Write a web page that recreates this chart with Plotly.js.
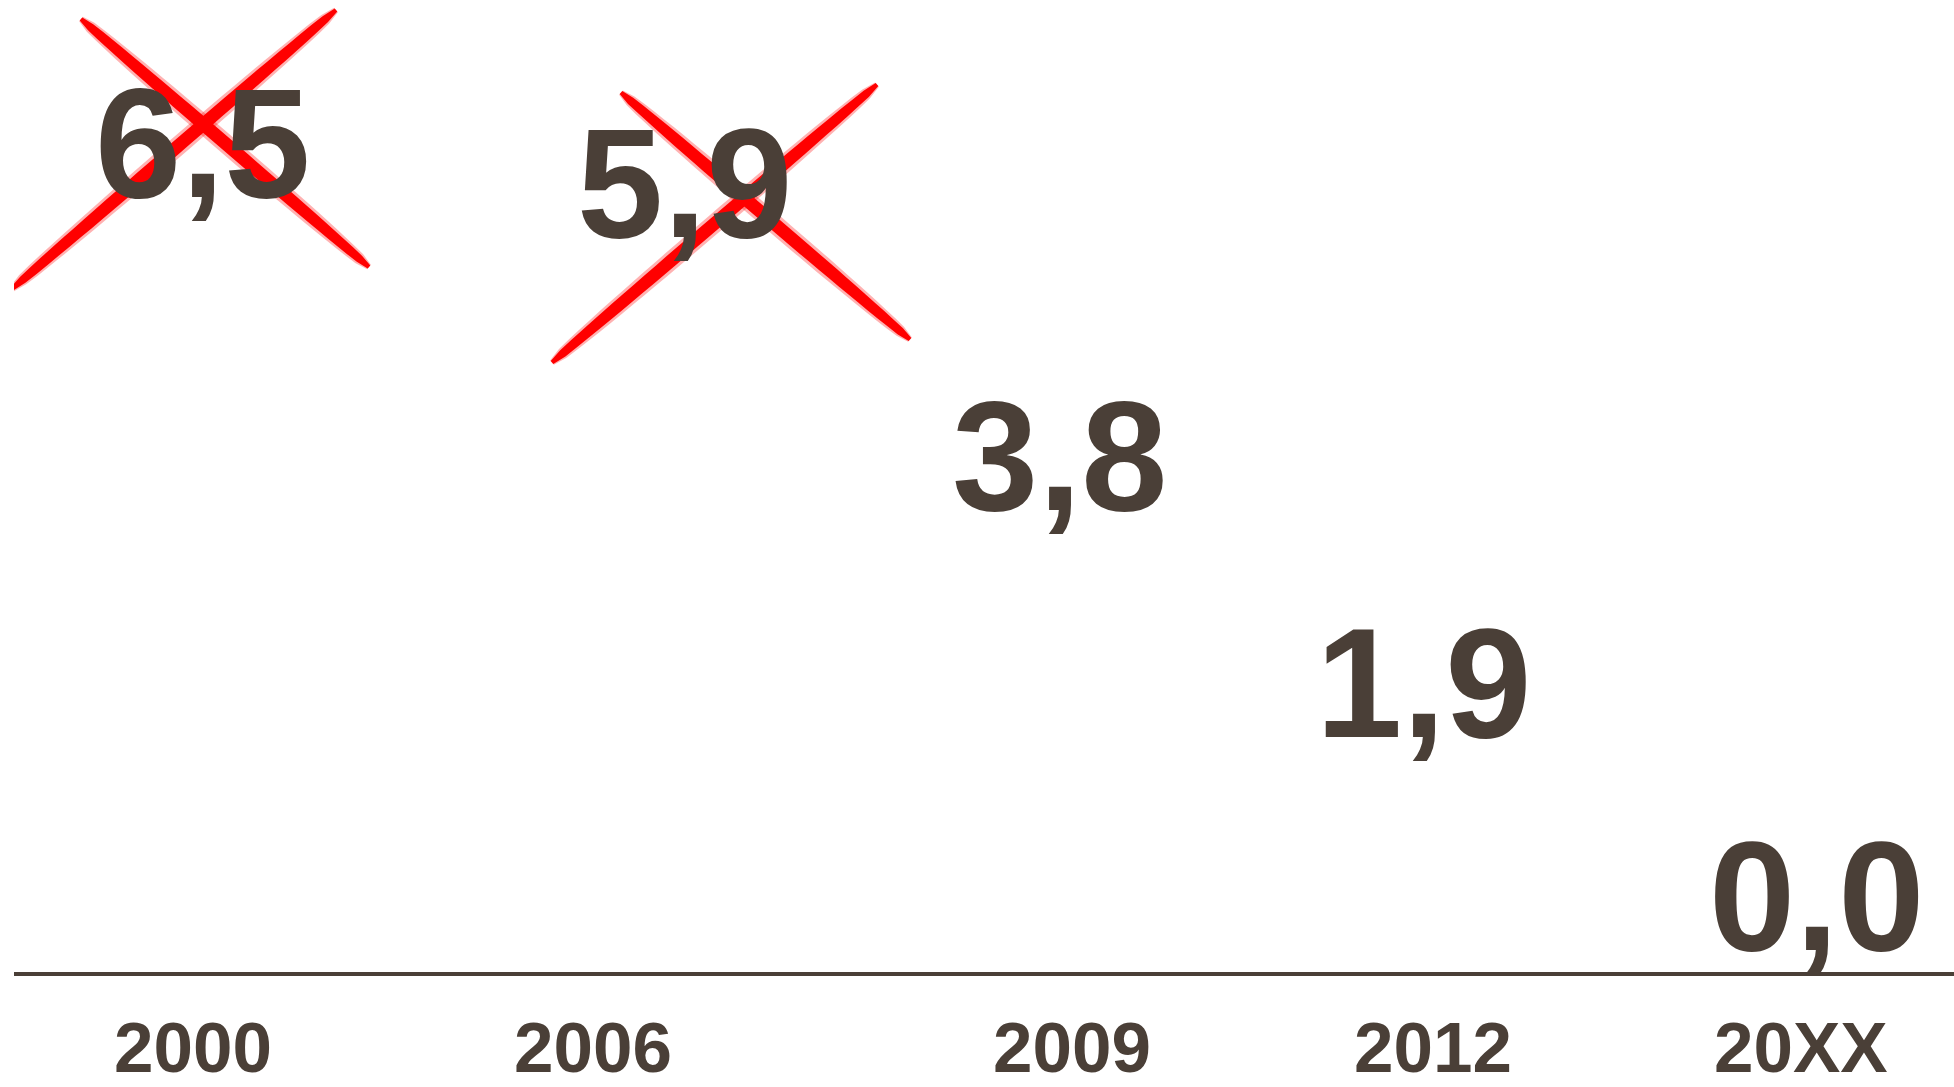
<!DOCTYPE html>
<html>
<head>
<meta charset="utf-8">
<script src="https://cdn.plot.ly/plotly-3.0.1.min.js"></script>
<style>
  html, body { margin: 0; padding: 0; background: #ffffff; }
  #chart { width: 1954px; height: 1087px; }
</style>
</head>
<body>
<div id="chart"></div>
<script>
// ---- data ----
const years = ['2000', '2006', '2009', '2012', '20XX'];
const values = [6.5, 5.9, 3.8, 1.9, 0.0];
const crossedOut = [true, true, false, false, false];

// ---- styling (pixel offsets of hand-placed labels) ----
const valueShiftX = [-6, 88, 75, 51, 56];
const valueShiftY = [0, 29, 0, -7, 0];
const yearShiftX = [-15, -3, 88, 61, 41];
// brush-stroke cross offsets (pixels, relative to the data point, y up)
const crossStrokes = [
  [[-127, 124, 161, -124], [-196, -146, 128, 133]],
  [[25, 120, 314, -127], [-44, -150, 281, 128]]
];

const ink = '#4a3f37';
const fmt = v => v.toFixed(1).replace('.', ',');
// position of each category on the category axis (its index)
const catPos = years.map((_, i) => i);

const annotations = [];
values.forEach((v, i) => {
  annotations.push({
    xref: 'x', yref: 'y', x: catPos[i], y: v,
    text: '<b>' + fmt(v) + '</b>', showarrow: false,
    xanchor: 'center', yanchor: 'middle',
    xshift: valueShiftX[i], yshift: valueShiftY[i],
    font: { family: 'Liberation Sans, Arial, sans-serif', size: 155, color: ink }
  });
});
years.forEach((yr, i) => {
  annotations.push({
    xref: 'x', yref: 'paper', x: catPos[i], y: 0,
    text: '<b>' + yr + '</b>', showarrow: false,
    xanchor: 'center', yanchor: 'middle',
    xshift: yearShiftX[i], yshift: -75,
    font: { family: 'Liberation Sans, Arial, sans-serif', size: 71, color: ink }
  });
});

// tapered brush stroke path in pixel coordinates
function brushPath(x0, y0, x1, y1, wMax) {
  const n = 30;
  const dx = x1 - x0, dy = y1 - y0;
  const len = Math.hypot(dx, dy);
  const nx = -dy / len, ny = dx / len;
  const left = [], right = [];
  for (let k = 0; k <= n; k++) {
    const t = k / n;
    const w = wMax * (0.3 + 0.7 * Math.pow(Math.sin(Math.PI * t), 0.35)) / 2;
    const px = x0 + dx * t, py = y0 + dy * t;
    left.push([px + nx * w, py + ny * w]);
    right.push([px - nx * w, py - ny * w]);
  }
  const pts = left.concat(right.reverse());
  return 'M' + pts.map(p => p[0].toFixed(1) + ',' + p[1].toFixed(1)).join(' L') + ' Z';
}

const shapes = [];
let c = 0;
values.forEach((v, i) => {
  if (!crossedOut[i]) return;
  const strokes = crossStrokes[c++];
  strokes.forEach(s => {
    [[19, 'rgba(255,0,0,0.3)'], [13, '#ff0000']].forEach(([w, col]) => {
      shapes.push({
        type: 'path', xref: 'x', yref: 'y',
        xsizemode: 'pixel', ysizemode: 'pixel',
        xanchor: catPos[i], yanchor: v,
        path: brushPath(s[0], s[1], s[2], s[3], w),
        fillcolor: col, line: { width: 0 }, layer: 'above'
      });
    });
  });
});

const trace = {
  type: 'scatter', mode: 'markers',
  x: years, y: values,
  marker: { size: 1, opacity: 0 },
  hoverinfo: 'skip', showlegend: false
};

const layout = {
  width: 1954, height: 1087,
  margin: { l: 14, r: 0, t: 0, b: 115 },
  paper_bgcolor: '#ffffff', plot_bgcolor: '#ffffff',
  showlegend: false,
  xaxis: {
    type: 'category', range: [-0.5, 4.5],
    showgrid: false, zeroline: false, showticklabels: false, ticks: '',
    showline: true, linecolor: ink, linewidth: 4, fixedrange: true
  },
  yaxis: {
    range: [-0.647, 7.733],
    showgrid: false, zeroline: false, showticklabels: false, ticks: '',
    showline: false, fixedrange: true
  },
  annotations: annotations,
  shapes: shapes
};

Plotly.newPlot('chart', [trace], layout, { displayModeBar: false, staticPlot: true });
</script>
</body>
</html>
